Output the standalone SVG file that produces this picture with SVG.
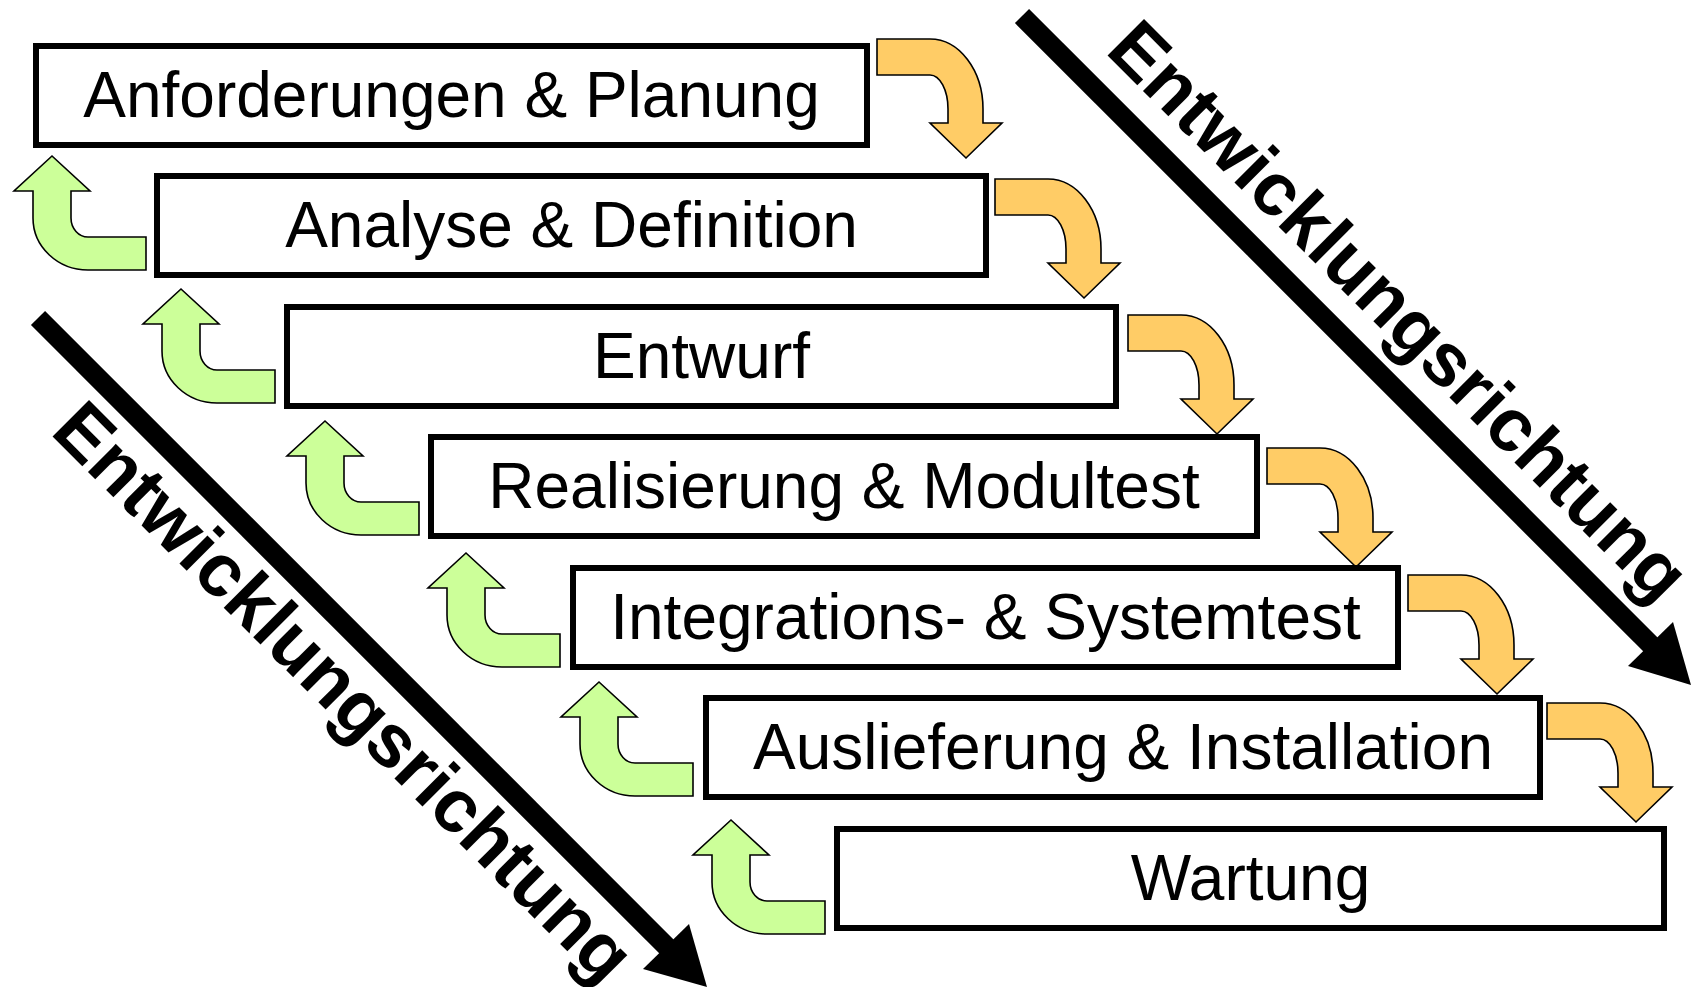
<svg xmlns="http://www.w3.org/2000/svg" xmlns:xlink="http://www.w3.org/1999/xlink" width="1692" height="987" viewBox="0 0 1692 987">
<style>
.box{fill:#fff;stroke:#000;stroke-width:6}
.lbl{font-family:"Liberation Sans",Arial,sans-serif;font-size:64px;fill:#000;text-anchor:middle}
.dir{font-family:"Liberation Sans",Arial,sans-serif;font-size:75px;font-weight:bold;fill:#000}
.fwd{fill:#FFCC66;stroke:#000;stroke-width:1.6;stroke-linejoin:miter}
.back{fill:#CCFF99;stroke:#000;stroke-width:1.6;stroke-linejoin:miter}
.big{stroke:#000;stroke-width:20;fill:none}
</style>
<defs>
<path id="fa" d="M0,0 H53 A53,70 0 0 1 106,70 V84 H125 L89,119 L53,84 H71 V70 A18,34 0 0 0 53,36 H0 Z"/>
<path id="ba" d="M0,0 L38,35 H19 V62 A17,19 0 0 0 36,81 H94 V114 H36 A55,52 0 0 1 -19,62 V35 H-38 Z"/>
</defs>
<rect width="1692" height="987" fill="#fff"/>
<g id="direction-arrows">
<line class="big" x1="1022" y1="16" x2="1652" y2="646"/>
<polygon points="1673,622 1628,666 1691,685" fill="#000"/>
<text class="dir" transform="translate(1104,52) rotate(45)">Entwicklungsrichtung</text>
<line class="big" x1="38" y1="318" x2="667" y2="947"/>
<polygon points="689,924 643,969 707,987" fill="#000"/>
<text class="dir" transform="translate(49,433) rotate(45)">Entwicklungsrichtung</text>
</g>
<g id="connectors">
<use xlink:href="#fa" class="fwd" transform="translate(877,39)"/>
<use xlink:href="#fa" class="fwd" transform="translate(995,179)"/>
<use xlink:href="#fa" class="fwd" transform="translate(1128,315)"/>
<use xlink:href="#fa" class="fwd" transform="translate(1267,448)"/>
<use xlink:href="#fa" class="fwd" transform="translate(1408,575)"/>
<use xlink:href="#fa" class="fwd" transform="translate(1547,703)"/>
<use xlink:href="#ba" class="back" transform="translate(52,156)"/>
<use xlink:href="#ba" class="back" transform="translate(181,289)"/>
<use xlink:href="#ba" class="back" transform="translate(325,421)"/>
<use xlink:href="#ba" class="back" transform="translate(466,553)"/>
<use xlink:href="#ba" class="back" transform="translate(599,682)"/>
<use xlink:href="#ba" class="back" transform="translate(731,820)"/>
</g>
<g id="n1"><rect class="box" x="36" y="46" width="831" height="99"/><text class="lbl" x="451.5" y="117">Anforderungen &amp; Planung</text></g>
<g id="n2"><rect class="box" x="157" y="176" width="829" height="99"/><text class="lbl" x="571.5" y="247">Analyse &amp; Definition</text></g>
<g id="n3"><rect class="box" x="287" y="307" width="829" height="99"/><text class="lbl" x="701.5" y="378">Entwurf</text></g>
<g id="n4"><rect class="box" x="431" y="437" width="826" height="99"/><text class="lbl" x="844" y="508">Realisierung &amp; Modultest</text></g>
<g id="n5"><rect class="box" x="573" y="568" width="825" height="99"/><text class="lbl" x="985.5" y="639">Integrations- &amp; Systemtest</text></g>
<g id="n6"><rect class="box" x="706" y="698" width="834" height="99"/><text class="lbl" x="1123" y="769">Auslieferung &amp; Installation</text></g>
<g id="n7"><rect class="box" x="837" y="829" width="827" height="99"/><text class="lbl" x="1250.5" y="900">Wartung</text></g>
</svg>
